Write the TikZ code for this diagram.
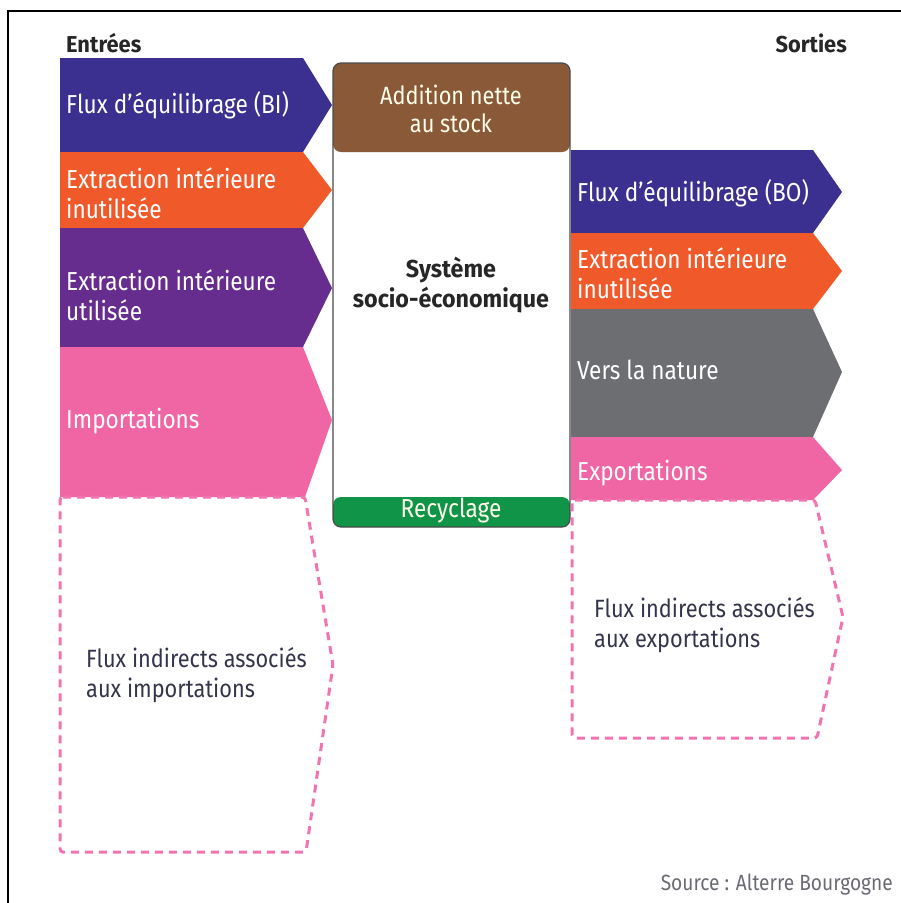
\documentclass[tikz,border=0pt]{standalone}
\usepackage{fontspec}
\setmainfont{Fira Sans}[FakeStretch=0.87]
\newfontfamily\hdfont{Fira Sans}[FakeStretch=0.95]
\definecolor{blueC}{HTML}{3B3090}
\definecolor{orangeC}{HTML}{F05A2A}
\definecolor{purpleC}{HTML}{662D8F}
\definecolor{pinkC}{HTML}{F066A4}
\definecolor{grayC}{HTML}{6D6E71}
\definecolor{brownC}{HTML}{8A5A38}
\definecolor{greenC}{HTML}{109447}
\definecolor{dashC}{HTML}{F173B0}
\definecolor{darkT}{HTML}{34344C}
\definecolor{srcT}{HTML}{6A6A72}
\definecolor{boxC}{HTML}{4A4A4A}
\begin{document}
\begin{tikzpicture}[x=1pt,y=-1pt,
  wl/.style={text=white, font=\fontsize{26}{30}\selectfont, align=left, inner sep=0pt, anchor=west},
  dl/.style={text=darkT, font=\fontsize{25}{30}\selectfont, align=left, inner sep=0pt, anchor=west},
  wc/.style={text=white!92!yellow, font=\fontsize{25}{28}\selectfont, align=center, inner sep=0pt},
  bc/.style={text=black!85, font=\hdfont\bfseries\fontsize{24.5}{30}\selectfont, align=center, inner sep=0pt},
  hd/.style={text=black!85, font=\hdfont\bfseries\fontsize{23}{26}\selectfont, inner sep=0pt},
  dashbox/.style={draw=dashC, line width=3pt, dash pattern=on 8pt off 6pt, rounded corners=3pt}]
\useasboundingbox (0,0) rectangle (901,903);
% frame
\draw[line width=1.5pt] (8,903) -- (8,11) -- (901,11);
% left arrows
\fill[blueC] (60,58) -- (303,58) -- (332,105) -- (303,152) -- (60,152) -- cycle;
\fill[orangeC] (60,152) -- (303,152) -- (332,190) -- (303,228) -- (60,228) -- cycle;
\fill[purpleC] (60,228) -- (303,228) -- (332,288) -- (303,347) -- (60,347) -- cycle;
\fill[pinkC] (60,347) -- (303,347) -- (332,420) -- (305,497) -- (60,497) -- cycle;
\draw[dashbox] (60,497) -- (305,497) -- (333,665) -- (306,852) -- (60,852) -- cycle;
% center box
\fill[white, rounded corners=8pt] (333,63) rectangle (570,527);
\fill[brownC, rounded corners=8pt] (333,63) rectangle (570,152);
\fill[greenC, rounded corners=8pt] (333,497) rectangle (570,527);
\draw[boxC, line width=1.2pt, rounded corners=8pt] (333,63) rectangle (570,527);
% right arrows
\fill[blueC] (571,150) -- (813,150) -- (842,192) -- (813,233) -- (571,233) -- cycle;
\fill[orangeC] (571,233) -- (813,233) -- (842,271) -- (813,309) -- (571,309) -- cycle;
\fill[grayC] (571,309) -- (813,309) -- (842,372) -- (813,437) -- (571,437) -- cycle;
\fill[pinkC] (571,437) -- (813,437) -- (842,470) -- (813,500) -- (571,500) -- cycle;
\draw[dashbox] (572,500) -- (815,500) -- (843,617) -- (817,738) -- (572,738) -- cycle;
% texts
\node[hd, anchor=west] (ent) at (66,43) {Entrées};
\node[hd, anchor=east] (sor) at (847,43) {Sorties};
\node[wl] (bi) at (66,105) {Flux d’équilibrage (BI)};
\node[wl] (eii) at (66,193) {Extraction intérieure\\inutilisée};
\node[wl] (eiu) at (66,295) {Extraction intérieure\\utilisée};
\node[wl] (imp) at (66,421) {Importations};
\node[dl] (fii) at (86,675) {Flux indirects associés\\aux importations};
\node[wc] (add) at (451,109) {Addition nette\\au stock};
\node[bc] (sys) at (451,285) {Système\\socio-économique};
\node[wc, font=\fontsize{26}{28}\selectfont] (rec) at (451,511) {Recyclage};
\node[wl] (bo) at (577,193) {Flux d’équilibrage (BO)};
\node[wl] (eio) at (577,273) {Extraction intérieure\\inutilisée};
\node[wl] (vn) at (577,370) {Vers la nature};
\node[wl] (exp) at (577,473) {Exportations};
\node[dl] (fie) at (594,625) {Flux indirects associés\\aux exportations};
\node[text=srcT, font=\fontsize{22}{24}\selectfont, inner sep=0pt, anchor=east] (src) at (893,885) {Source : Alterre Bourgogne};
\end{tikzpicture}
\end{document}
